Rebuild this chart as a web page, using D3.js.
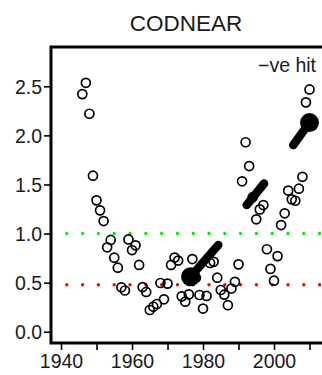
<!DOCTYPE html>
<html><head><meta charset="utf-8">
<script src="https://cdn.jsdelivr.net/npm/d3@7"></script>
<style>
html,body{margin:0;padding:0;background:#fff;}
svg{display:block;font-family:"Liberation Sans",Arial,sans-serif;}
</style></head>
<body><svg id="c" width="322" height="375"></svg>
<script>
const title = "CODNEAR";
const label = "\u2212ve hit";
const years = [1946,1947,1948,1949,1950,1951,1952,1953,1954,1955,1956,1957,1958,1959,1960,1961,1962,1963,1964,1965,1966,1967,1968,1969,1970,
  1971,1972,1973,1974,1975,1976,1977,1978,1979,1980,1981,1982,1983,1984,1985,1986,1987,1988,1989,1990,
  1991,1992,1993,1994,1995,1996,1997,1998,1999,2000,2001,2002,2003,2004,2005,2006,2007,2008,2009,2010,2011];
const values = [2.42,2.535,2.22,1.589,1.338,1.236,1.127,0.86,0.935,0.754,0.652,0.452,0.42,0.94,0.832,0.88,0.68,0.455,0.405,0.221,0.255,0.282,0.496,0.33,0.49,
  0.68,0.755,0.725,0.36,0.306,0.38,0.74,0.55,0.374,0.236,0.364,0.70,0.712,0.55,0.425,0.378,0.27,0.44,0.508,0.686,
  1.532,1.93,1.687,1.37,1.145,1.246,1.29,0.84,0.64,0.52,0.77,1.086,1.206,1.438,1.348,1.334,1.457,1.578,2.336,2.468,2.13];
const trendStartYear = [1976.5,1992.3,2005.4];
const trendStartVal  = [0.56,1.29,1.90];
const trendEndYear   = [1984.3,1997.2,2010.0];
const trendEndVal    = [0.883,1.51,2.13];
const dotYears = [1976.5,2010.0];
const dotVals  = [0.56,2.13];
const refVals = [1.0,0.479];
const refColors = ["#00ee00","#ff0000"];
const xTicks = [1940,1950,1960,1970,1980,1990,2000,2010];
const xLabels = [1940,1960,1980,2000];
const yTicks = [0,0.5,1,1.5,2,2.5];

const svg = d3.select("#c");
const L=51, R=323.5, T=47, B=343;
const x = d3.scaleLinear().domain([1937.18, 1937.18 + (R-L)/3.55]).range([L,R]);
const y = d3.scaleLinear().domain([-0.115,2.9]).range([B,T]);

// reference lines
refVals.forEach((v,i)=>{
  svg.append("line").attr("x1",L).attr("x2",R).attr("y1",y(v)).attr("y2",y(v))
    .attr("stroke",refColors[i]).attr("stroke-width",3.4).attr("stroke-linecap","round")
    .attr("stroke-dasharray","0 15.8");
});

// points
svg.append("g").selectAll("circle").data(years).join("circle")
  .attr("cx",(d)=>x(d)).attr("cy",(d,i)=>y(values[i])).attr("r",4.5)
  .attr("fill","none").attr("stroke","#000").attr("stroke-width",1.7);

// trends
svg.append("g").selectAll("line").data(trendStartYear).join("line")
  .attr("x1",d=>x(d)).attr("y1",(d,i)=>y(trendStartVal[i]))
  .attr("x2",(d,i)=>x(trendEndYear[i])).attr("y2",(d,i)=>y(trendEndVal[i]))
  .attr("stroke","#000").attr("stroke-width",8.5).attr("stroke-linecap","round");
svg.append("g").selectAll("circle").data(dotYears).join("circle")
  .attr("cx",d=>x(d)).attr("cy",(d,i)=>y(dotVals[i])).attr("r",9.5).attr("fill","#000");

// axes
const xa = svg.append("g").attr("transform",`translate(0,${B})`)
  .call(d3.axisBottom(x).tickValues(xTicks).tickSize(7).tickPadding(4)
    .tickFormat(d=>xLabels.includes(d)?String(d):""));
const ya = svg.append("g").attr("transform",`translate(${L},0)`)
  .call(d3.axisLeft(y).tickValues(yTicks).tickSize(7).tickPadding(2).tickFormat(d3.format(".1f")));
[xa,ya].forEach(a=>{
  a.select(".domain").remove();
  a.selectAll(".tick line").attr("stroke","#000").attr("stroke-width",1.6);
  a.selectAll(".tick text").attr("fill","#1a1a1a").style("font-size","19.5px");
});
xa.selectAll(".tick text").attr("dy","0.72em");
ya.selectAll(".tick text").attr("dy","0.36em");

// frame
svg.append("path").attr("d",`M${R},${T}H${L}V${B}H${R}`).attr("fill","none")
  .attr("stroke","#000").attr("stroke-width",3);

svg.append("text").attr("x",186).attr("y",31).attr("text-anchor","middle")
  .style("font-size","22.5px").attr("fill","#1a1a1a").text(title);
svg.append("text").attr("x",316).attr("y",72).attr("text-anchor","end")
  .style("font-size","19.5px").attr("fill","#1a1a1a").text(label);
</script></body></html>
